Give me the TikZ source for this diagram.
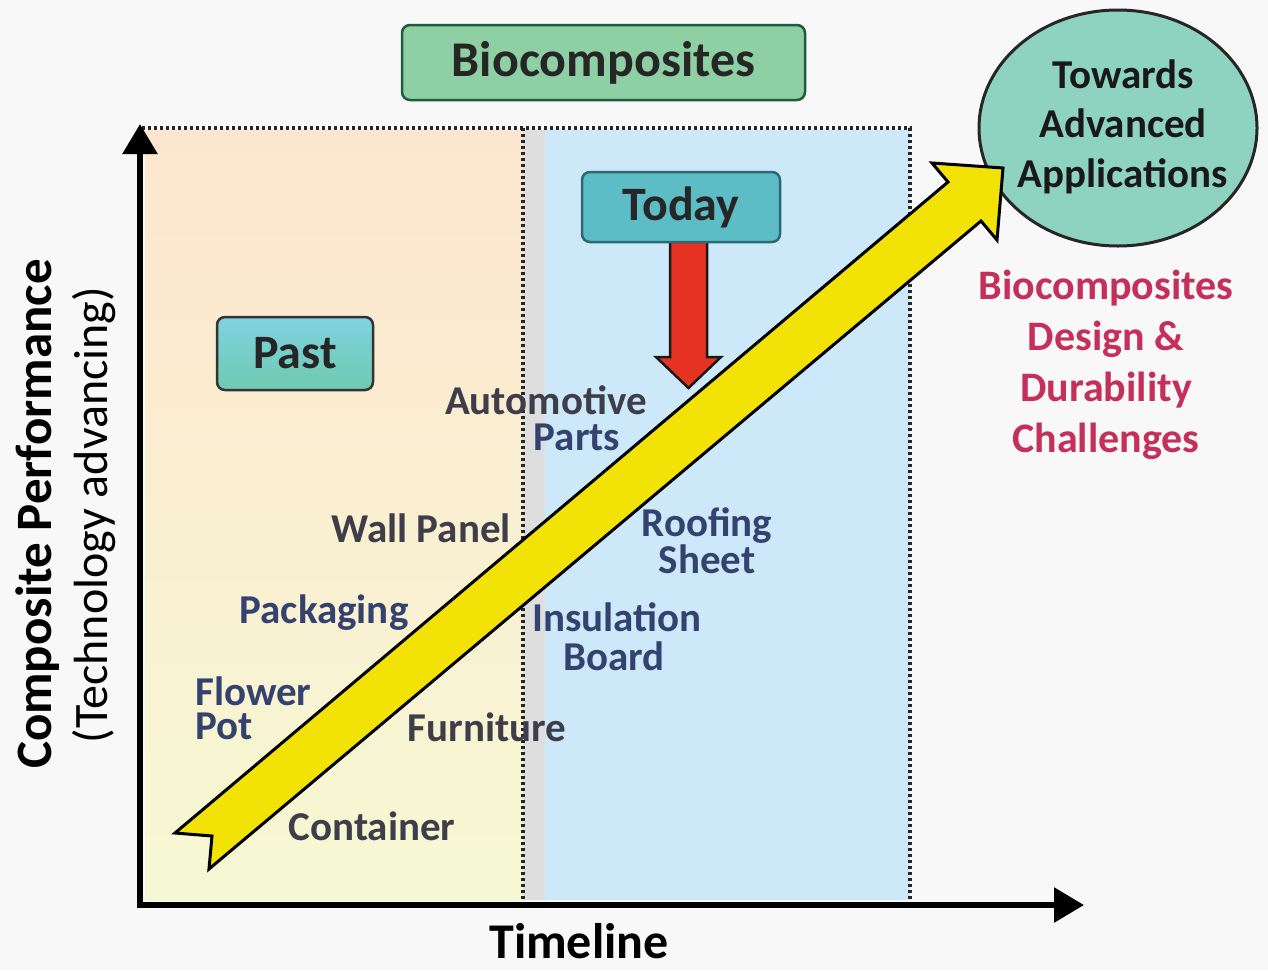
\documentclass[tikz,border=0pt]{standalone}
\usepackage{fontspec}
\setmainfont{Carlito}
\usetikzlibrary{shapes.geometric,arrows.meta}
\definecolor{bgc}{HTML}{F8F8F8}
\definecolor{pastTop}{HTML}{FDE6CF}
\definecolor{pastBot}{HTML}{F6F8D3}
\definecolor{stripc}{HTML}{DEDEDE}
\definecolor{todayc}{HTML}{CDE8F9}
\definecolor{titlefill}{HTML}{8ED0A4}
\definecolor{titledraw}{HTML}{1F5C3C}
\definecolor{todayfill}{HTML}{5DBDC7}
\definecolor{todaydraw}{HTML}{2D6A70}
\definecolor{pastfillA}{HTML}{80D2E0}
\definecolor{pastfillB}{HTML}{6FCAB0}
\definecolor{ellfill}{HTML}{8ED3BF}
\definecolor{redfill}{HTML}{E53222}
\definecolor{yellowfill}{HTML}{F2E205}
\definecolor{redtext}{HTML}{C42F5C}
\definecolor{labblue}{HTML}{34426F}
\definecolor{labgray}{HTML}{3E3E4A}
\begin{document}
\begin{tikzpicture}[x=1pt,y=-1pt,
  divider/.style={line width=3.5pt, dash pattern=on 3pt off 3pt, black!85},
  axis/.style={line width=6pt, -{Triangle[width=34pt,length=30pt]}},
  roundbox/.style={rounded corners=8pt, line width=2.5pt, inner sep=0pt},
  lab/.style={font=\bfseries\fontsize{41}{41}\selectfont, inner sep=0pt, anchor=base, text=labblue, align=center},
  labg/.style={lab, text=labgray},
  redlab/.style={font=\bfseries\fontsize{42}{50.7}\selectfont, inner sep=0pt, anchor=base, text=redtext, align=center},
  elltext/.style={font=\bfseries\fontsize{41}{49.5}\selectfont, inner sep=0pt, anchor=base, text=black!90, align=center},
  yarrow/.style={fill=yellowfill, draw=black, line width=3pt, line join=miter},
  rarrow/.style={fill=redfill, draw=black!90, line width=2.5pt, line join=miter}
]
\useasboundingbox (0,0) rectangle (1268,970);
\fill[bgc] (0,0) rectangle (1268,970);

% regions
\shade[top color=pastTop, bottom color=pastBot] (145,130) rectangle (523,900);
\fill[stripc] (523,130) rectangle (545,900);
\fill[todayc] (545,130) rectangle (910,900);
\draw[divider] (142,128) -- (910,128) -- (910,900);
\draw[divider] (523,128) -- (523,900);

% axes
\coordinate (ybot) at (140,908);
\coordinate (ytop) at (140,124);
\coordinate (xbeg) at (137,905);
\coordinate (xend) at (1084,905);
\draw[axis] (ybot) -- (ytop);
\draw[axis] (xbeg) -- (xend);

% axis labels
\node[rotate=90, anchor=base, inner sep=0pt, font=\bfseries\fontsize{51}{51}\selectfont] (ylab) at (51,514) {Composite Performance};
\node[rotate=90, anchor=base, inner sep=0pt, font=\fontsize{48}{48}\selectfont] (ysub) at (107,515) {(Technology advancing)};
\node[anchor=base, inner sep=0pt, font=\bfseries\fontsize{50}{50}\selectfont] (xlab) at (579,958) {Timeline};

% title
\node[roundbox, draw=titledraw, fill=titlefill, minimum width=403pt, minimum height=75pt,
      font=\bfseries\fontsize{50}{50}\selectfont, text=black!85] (bio) at (603.5,62.5) {Biocomposites};

% application labels (base = baseline of the last line)
\node[labg, font=\bfseries\fontsize{41}{36}\selectfont] (auto) at (546,450) {Automotive\\\hspace*{62pt}\textcolor{labblue}{Parts}};
\node[labg] (wall) at (421,542) {Wall Panel};
\node[lab, font=\bfseries\fontsize{41}{33}\selectfont] (roof) at (707,573) {Roofing\\Sheet};
\node[lab] (pack) at (324,623) {Packaging};
\node[lab, font=\bfseries\fontsize{41}{39}\selectfont] (ins) at (617,670) {Insulation\\\hspace*{-6pt}Board};
\node[lab, align=left, anchor=base west, font=\bfseries\fontsize{41}{34}\selectfont] (flow) at (195,739) {Flower\\Pot};
\node[labg] (furn) at (487,741) {Furniture};
\node[labg] (cont) at (372,840) {Container};

% ellipse
\node[ellipse, draw=black!85, line width=3pt, fill=ellfill, minimum width=278pt, minimum height=236pt] (adv) at (1118,128) {};
\node[elltext] (advtext) at (1123,187) {Towards\\Advanced\\Applications};

% challenges
\node[redlab] (chal) at (1106,452) {Biocomposites\\Design \&\\Durability\\Challenges};

% yellow arrow
\coordinate (ytail) at (175,833);
\coordinate (ytip) at (1003,168);
\draw[yarrow] (ytail) -- (948,182) -- (932,163) -- (ytip) -- (997,240) -- (981,221) -- (209,869) -- (212,836) -- cycle;

% today box and red arrow
\coordinate (redtip) at (688.5,388);
\draw[rarrow] (670,240) -- (670,357) -- (656,357) -- (redtip) -- (721,357) -- (707,357) -- (707,240) -- cycle;
\node[roundbox, draw=todaydraw, fill=todayfill, minimum width=198pt, minimum height=70pt,
      font=\bfseries\fontsize{48}{48}\selectfont, text=black!85] (today) at (681,207) {Today};

% past box
\node[roundbox, draw=black!80, top color=pastfillA, bottom color=pastfillB, minimum width=156pt, minimum height=73pt,
      font=\bfseries\fontsize{48}{48}\selectfont, text=black!85] (past) at (295,353.5) {Past};
\end{tikzpicture}
\end{document}
